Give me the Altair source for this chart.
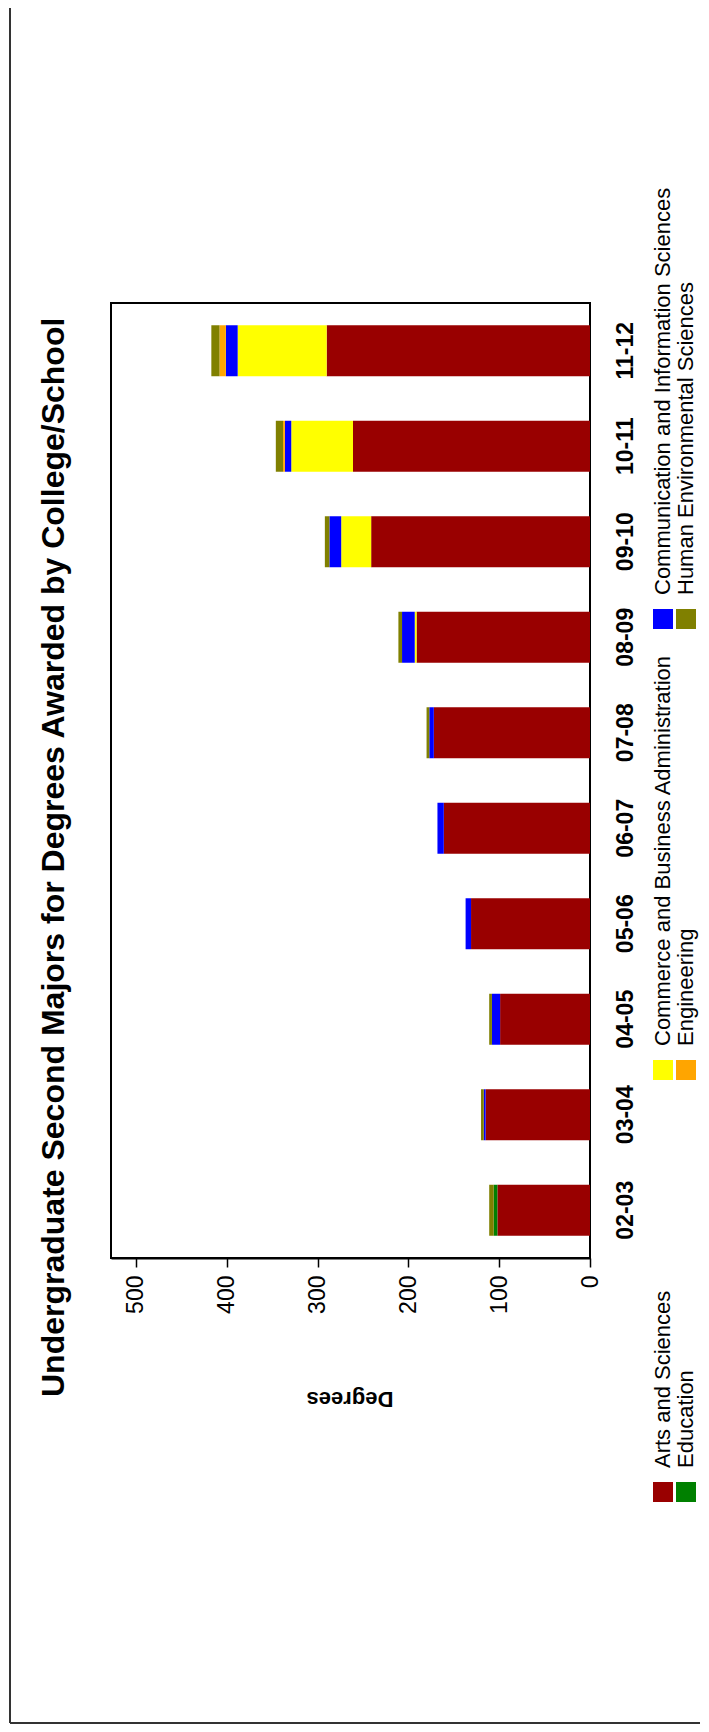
import altair as alt
import pandas as pd

# ---------------- data ----------------
years = ["02-03", "03-04", "04-05", "05-06", "06-07", "07-08", "08-09", "09-10", "10-11", "11-12"]
colleges = [
    "Arts and Sciences",
    "Commerce and Business Administration",
    "Communication and Information Sciences",
    "Education",
    "Engineering",
    "Human Environmental Sciences",
]
colors = ["#990000", "#FFFF00", "#0000FF", "#008000", "#FFA500", "#808000"]

arts = [102, 115, 99, 131, 161, 172, 191, 241, 261, 290]
commerce = [0, 0, 0, 0, 0, 0, 2, 33, 68, 98]
communication = [0, 2, 9, 6, 7, 5, 14, 13, 7, 13]
education = [4, 0, 0, 0, 0, 0, 0, 0, 0, 0]
engineering = [0, 0, 0, 0, 0, 0, 0, 0, 2, 7]
human_env = [5, 3, 3, 0, 0, 3, 4, 5, 8, 9]

tick_values = [0, 100, 200, 300, 400, 500]
title_text = "Undergraduate Second Majors for Degrees Awarded by College/School"
axis_title = "Degrees"

# legend layout (rotated chart: legend sits to the right, reading upward)
legend_order = [
    "Arts and Sciences", "Education",
    "Commerce and Business Administration", "Engineering",
    "Communication and Information Sciences", "Human Environmental Sciences",
]
legend_group_y = [1189, 767, 316]
legend_row_x = [552, 575]

# ---------------- tables ----------------
series = [arts, commerce, communication, education, engineering, human_env]
rows = []
for ci, (name, vals) in enumerate(zip(colleges, series)):
    for y, v in zip(years, vals):
        rows.append({"year": y, "college": name, "value": v, "ord": ci})
df = pd.DataFrame(rows)

leg_rows = []
for i, name in enumerate(legend_order):
    g, r = divmod(i, 2)
    leg_rows.append({"college": name, "lx": legend_row_x[r],
                     "ly": legend_group_y[g], "ty": legend_group_y[g] - 24})
leg = pd.DataFrame(leg_rows)

color_scale = alt.Scale(domain=colleges, range=colors)
FONT = "Liberation Sans"

bars = alt.Chart(df).mark_bar().encode(
    x=alt.X("value:Q", stack="zero",
            scale=alt.Scale(domain=[0, 527.5], reverse=True, nice=False, zero=True),
            axis=alt.Axis(values=tick_values, labelAngle=270, labelAlign="right",
                          labelBaseline="middle", labelFontSize=23, labelFont=FONT,
                          labelColor="black", tickSize=9, tickColor="black",
                          tickWidth=1.5, domainColor="black", domainWidth=2,
                          labelPadding=8, grid=False, title=None)),
    y=alt.Y("year:N", sort=years[::-1],
            scale=alt.Scale(paddingInner=0.466, paddingOuter=0.233),
            axis=alt.Axis(orient="right", labelAngle=270, labelAlign="center",
                          labelBaseline="top", labelFontSize=23, labelFont=FONT,
                          labelFontWeight="bold", labelColor="black", ticks=False,
                          domain=False, labelPadding=24, grid=False, title=None)),
    color=alt.Color("college:N", scale=color_scale, legend=None),
    order=alt.Order("ord:Q", sort="ascending"),
)

swatches = alt.Chart(leg).mark_square(size=400, opacity=1).encode(
    x=alt.X("lx:Q", scale=None, axis=None),
    y=alt.Y("ly:Q", scale=None, axis=None),
    color=alt.Color("college:N", scale=color_scale, legend=None),
)
leg_text = alt.Chart(leg).mark_text(angle=270, align="left", baseline="middle",
                                    fontSize=22, font=FONT, color="black").encode(
    x=alt.X("lx:Q", scale=None, axis=None),
    y=alt.Y("ty:Q", scale=None, axis=None),
    text="college:N",
)

title_df = pd.DataFrame({"t": [title_text]})
title = alt.Chart(title_df).mark_text(angle=270, align="left", baseline="middle",
                                      fontSize=32, fontWeight="bold", font=FONT,
                                      color="black").encode(
    x=alt.value(-57), y=alt.value(1094), text="t:N")

ytitle_df = pd.DataFrame({"t": [axis_title]})
ytitle = alt.Chart(ytitle_df).mark_text(angle=180, align="center", baseline="middle",
                                        fontSize=22, fontWeight="bold", font=FONT,
                                        color="black").encode(
    x=alt.value(239), y=alt.value(1096), text="t:N")

border_df = pd.DataFrame({"b": [0]})
left_border = alt.Chart(border_df).mark_rule(color="#333333", strokeWidth=2).encode(
    x=alt.value(-101), y=alt.value(-303), y2=alt.value(1420))
bottom_border = alt.Chart(border_df).mark_rule(color="#333333", strokeWidth=2).encode(
    x=alt.value(-101), x2=alt.value(589), y=alt.value(1420))

chart = alt.layer(bars, swatches, leg_text, title, ytitle, left_border, bottom_border).resolve_scale(
    x="independent", y="independent"
).properties(
    width=479, height=955,
    autosize=alt.AutoSizeParams(type="none"),
    padding={"left": 103, "top": 295, "right": 111, "bottom": 466},
).configure_view(stroke="black", strokeWidth=2)

chart.save("out.html", embed_options={"renderer": "svg", "actions": False})
